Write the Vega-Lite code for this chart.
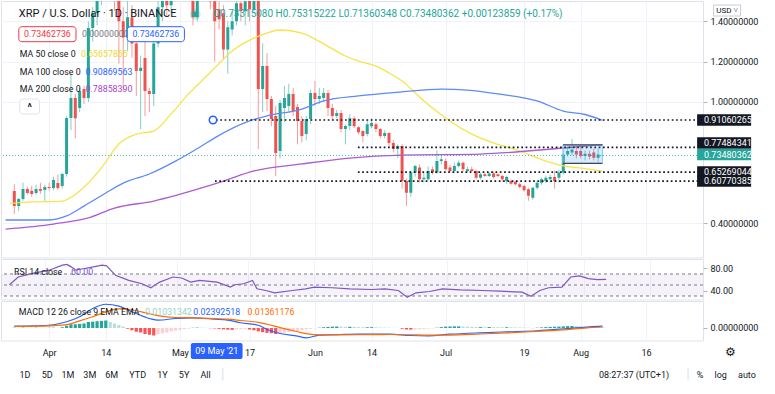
{
  "$schema": "https://vega.github.io/schema/vega-lite/v6.json",
  "background": "white",
  "padding": 0,
  "spacing": 0,
  "config": {
    "font": "Roboto",
    "view": {"stroke": "#e0e3eb"},
    "axis": {"labelFontSize": 9, "labelColor": "#131722", "gridColor": "#f0f3fa", "tickColor": "#b2b5be"},
    "text": {"fontSize": 9, "color": "#131722", "baseline": "middle"}
  },
  "datasets": {
    "candles": [
      {"date":"2021-03-24","open":0.559,"high":0.593,"low":0.445,"close":0.484,"hist":0.004},
      {"date":"2021-03-25","open":0.484,"high":0.524,"low":0.46,"close":0.519,"hist":0.003},
      {"date":"2021-03-26","open":0.519,"high":0.6,"low":0.51,"close":0.569,"hist":0.005},
      {"date":"2021-03-27","open":0.569,"high":0.58,"low":0.54,"close":0.549,"hist":0.004},
      {"date":"2021-03-28","open":0.56,"high":0.585,"low":0.53,"close":0.544,"hist":0.003},
      {"date":"2021-03-29","open":0.549,"high":0.59,"low":0.54,"close":0.569,"hist":0.004},
      {"date":"2021-03-30","open":0.569,"high":0.6,"low":0.545,"close":0.56,"hist":0.003},
      {"date":"2021-03-31","open":0.564,"high":0.59,"low":0.51,"close":0.579,"hist":0.002},
      {"date":"2021-04-01","open":0.579,"high":0.6,"low":0.56,"close":0.574,"hist":0.003},
      {"date":"2021-04-02","open":0.574,"high":0.63,"low":0.565,"close":0.613,"hist":0.004},
      {"date":"2021-04-03","open":0.598,"high":0.64,"low":0.565,"close":0.574,"hist":0.002},
      {"date":"2021-04-04","open":0.583,"high":0.65,"low":0.57,"close":0.643,"hist":0.01},
      {"date":"2021-04-05","open":0.643,"high":0.93,"low":0.63,"close":0.921,"hist":0.03},
      {"date":"2021-04-06","open":0.921,"high":1.14,"low":0.86,"close":1.02,"hist":0.05},
      {"date":"2021-04-07","open":1.02,"high":1.04,"low":0.82,"close":0.92,"hist":0.05},
      {"date":"2021-04-08","open":0.97,"high":1.07,"low":0.95,"close":1.054,"hist":0.055},
      {"date":"2021-04-09","open":1.064,"high":1.08,"low":0.99,"close":1.02,"hist":0.06},
      {"date":"2021-04-10","open":1.02,"high":1.4,"low":1.0,"close":1.367,"hist":0.08},
      {"date":"2021-04-11","open":1.367,"high":1.47,"low":1.3,"close":1.44,"hist":0.085},
      {"date":"2021-04-12","open":1.44,"high":1.58,"low":1.38,"close":1.52,"hist":0.09},
      {"date":"2021-04-13","open":1.52,"high":1.85,"low":1.48,"close":1.8,"hist":0.095},
      {"date":"2021-04-14","open":1.8,"high":1.96,"low":1.62,"close":1.72,"hist":0.1},
      {"date":"2021-04-15","open":1.72,"high":1.78,"low":1.58,"close":1.66,"hist":0.08},
      {"date":"2021-04-16","open":1.66,"high":1.72,"low":1.45,"close":1.56,"hist":0.06},
      {"date":"2021-04-17","open":1.56,"high":1.64,"low":1.19,"close":1.4,"hist":0.04},
      {"date":"2021-04-18","open":1.4,"high":1.47,"low":1.05,"close":1.32,"hist":0.02},
      {"date":"2021-04-19","open":1.32,"high":1.5,"low":1.25,"close":1.42,"hist":-0.01},
      {"date":"2021-04-20","open":1.42,"high":1.48,"low":1.22,"close":1.29,"hist":-0.03},
      {"date":"2021-04-21","open":1.29,"high":1.34,"low":1.03,"close":1.154,"hist":-0.05},
      {"date":"2021-04-22","open":1.154,"high":1.23,"low":0.866,"close":1.17,"hist":-0.06},
      {"date":"2021-04-23","open":1.218,"high":1.3,"low":0.93,"close":1.054,"hist":-0.08},
      {"date":"2021-04-24","open":1.054,"high":1.07,"low":0.95,"close":1.04,"hist":-0.09},
      {"date":"2021-04-25","open":1.04,"high":1.31,"low":0.98,"close":1.29,"hist":-0.1},
      {"date":"2021-04-26","open":1.29,"high":1.5,"low":1.27,"close":1.47,"hist":-0.085},
      {"date":"2021-04-27","open":1.47,"high":1.56,"low":1.4,"close":1.52,"hist":-0.07},
      {"date":"2021-04-28","open":1.52,"high":1.58,"low":1.42,"close":1.48,"hist":-0.06},
      {"date":"2021-04-29","open":1.48,"high":1.56,"low":1.44,"close":1.52,"hist":-0.045},
      {"date":"2021-04-30","open":1.52,"high":1.7,"low":1.5,"close":1.65,"hist":-0.035},
      {"date":"2021-05-01","open":1.65,"high":1.7,"low":1.58,"close":1.62,"hist":-0.025},
      {"date":"2021-05-02","open":1.62,"high":1.66,"low":1.52,"close":1.56,"hist":-0.015},
      {"date":"2021-05-03","open":1.56,"high":1.65,"low":1.5,"close":1.6,"hist":-0.008},
      {"date":"2021-05-04","open":1.6,"high":1.62,"low":1.38,"close":1.42,"hist":0.003},
      {"date":"2021-05-05","open":1.42,"high":1.62,"low":1.4,"close":1.58,"hist":0.005},
      {"date":"2021-05-06","open":1.58,"high":1.65,"low":1.52,"close":1.56,"hist":0.004},
      {"date":"2021-05-07","open":1.56,"high":1.62,"low":1.5,"close":1.58,"hist":0.002},
      {"date":"2021-05-08","open":1.58,"high":1.62,"low":1.46,"close":1.5,"hist":-0.003},
      {"date":"2021-05-09","open":1.5,"high":1.55,"low":1.2,"close":1.4,"hist":-0.006},
      {"date":"2021-05-10","open":1.46,"high":1.5,"low":1.36,"close":1.41,"hist":-0.012},
      {"date":"2021-05-11","open":1.44,"high":1.48,"low":1.21,"close":1.26,"hist":-0.018},
      {"date":"2021-05-12","open":1.26,"high":1.4,"low":1.14,"close":1.37,"hist":-0.022},
      {"date":"2021-05-13","open":1.36,"high":1.45,"low":1.33,"close":1.4,"hist":-0.025},
      {"date":"2021-05-14","open":1.4,"high":1.52,"low":1.38,"close":1.49,"hist":-0.018},
      {"date":"2021-05-15","open":1.49,"high":1.55,"low":1.4,"close":1.45,"hist":-0.015},
      {"date":"2021-05-16","open":1.45,"high":1.56,"low":1.38,"close":1.5,"hist":-0.012},
      {"date":"2021-05-17","open":1.52,"high":1.58,"low":1.4,"close":1.46,"hist":-0.02},
      {"date":"2021-05-18","open":1.46,"high":1.6,"low":1.44,"close":1.55,"hist":-0.03},
      {"date":"2021-05-19","open":1.55,"high":1.6,"low":0.767,"close":1.064,"hist":-0.045},
      {"date":"2021-05-20","open":1.064,"high":1.29,"low":0.95,"close":1.178,"hist":-0.055},
      {"date":"2021-05-21","open":1.178,"high":1.243,"low":0.955,"close":1.015,"hist":-0.065},
      {"date":"2021-05-22","open":1.015,"high":1.03,"low":0.88,"close":0.916,"hist":-0.07},
      {"date":"2021-05-23","open":0.93,"high":0.98,"low":0.633,"close":0.747,"hist":-0.08},
      {"date":"2021-05-24","open":0.757,"high":1.01,"low":0.72,"close":0.995,"hist":-0.07},
      {"date":"2021-05-25","open":0.97,"high":1.08,"low":0.9,"close":1.02,"hist":-0.065},
      {"date":"2021-05-26","open":0.98,"high":1.09,"low":0.95,"close":1.04,"hist":-0.055},
      {"date":"2021-05-27","open":1.04,"high":1.07,"low":0.93,"close":0.955,"hist":-0.045},
      {"date":"2021-05-28","open":0.975,"high":0.99,"low":0.79,"close":0.906,"hist":-0.04},
      {"date":"2021-05-29","open":0.906,"high":0.93,"low":0.8,"close":0.831,"hist":-0.03},
      {"date":"2021-05-30","open":0.841,"high":0.93,"low":0.81,"close":0.916,"hist":-0.02},
      {"date":"2021-05-31","open":0.916,"high":1.06,"low":0.89,"close":1.045,"hist":-0.012},
      {"date":"2021-06-01","open":1.045,"high":1.104,"low":0.98,"close":1.015,"hist":-0.005},
      {"date":"2021-06-02","open":1.015,"high":1.07,"low":0.99,"close":1.03,"hist":0.004},
      {"date":"2021-06-03","open":1.02,"high":1.07,"low":1.0,"close":1.045,"hist":0.01},
      {"date":"2021-06-04","open":1.045,"high":1.06,"low":0.93,"close":0.97,"hist":0.015},
      {"date":"2021-06-05","open":0.97,"high":0.99,"low":0.91,"close":0.93,"hist":0.018},
      {"date":"2021-06-06","open":0.93,"high":0.96,"low":0.92,"close":0.945,"hist":0.02},
      {"date":"2021-06-07","open":0.945,"high":0.96,"low":0.85,"close":0.866,"hist":0.018},
      {"date":"2021-06-08","open":0.866,"high":0.89,"low":0.79,"close":0.881,"hist":0.016},
      {"date":"2021-06-09","open":0.881,"high":0.94,"low":0.86,"close":0.92,"hist":0.016},
      {"date":"2021-06-10","open":0.92,"high":0.93,"low":0.87,"close":0.88,"hist":0.014},
      {"date":"2021-06-11","open":0.875,"high":0.88,"low":0.84,"close":0.85,"hist":0.012},
      {"date":"2021-06-12","open":0.856,"high":0.86,"low":0.8,"close":0.831,"hist":0.01},
      {"date":"2021-06-13","open":0.841,"high":0.91,"low":0.83,"close":0.89,"hist":0.01},
      {"date":"2021-06-14","open":0.88,"high":0.92,"low":0.87,"close":0.896,"hist":0.011},
      {"date":"2021-06-15","open":0.89,"high":0.9,"low":0.85,"close":0.866,"hist":0.009},
      {"date":"2021-06-16","open":0.866,"high":0.87,"low":0.82,"close":0.831,"hist":0.007},
      {"date":"2021-06-17","open":0.831,"high":0.86,"low":0.82,"close":0.846,"hist":0.006},
      {"date":"2021-06-18","open":0.846,"high":0.85,"low":0.78,"close":0.797,"hist":0.004},
      {"date":"2021-06-19","open":0.797,"high":0.81,"low":0.75,"close":0.767,"hist":0.002},
      {"date":"2021-06-20","open":0.767,"high":0.79,"low":0.72,"close":0.782,"hist":0.001},
      {"date":"2021-06-21","open":0.782,"high":0.79,"low":0.57,"close":0.608,"hist":-0.01},
      {"date":"2021-06-22","open":0.608,"high":0.62,"low":0.484,"close":0.55,"hist":-0.02},
      {"date":"2021-06-23","open":0.55,"high":0.66,"low":0.53,"close":0.65,"hist":-0.022},
      {"date":"2021-06-24","open":0.65,"high":0.69,"low":0.63,"close":0.683,"hist":-0.02},
      {"date":"2021-06-25","open":0.675,"high":0.69,"low":0.6,"close":0.617,"hist":-0.016},
      {"date":"2021-06-26","open":0.617,"high":0.65,"low":0.6,"close":0.625,"hist":-0.012},
      {"date":"2021-06-27","open":0.617,"high":0.68,"low":0.61,"close":0.658,"hist":-0.008},
      {"date":"2021-06-28","open":0.667,"high":0.68,"low":0.64,"close":0.65,"hist":-0.004},
      {"date":"2021-06-29","open":0.65,"high":0.761,"low":0.645,"close":0.707,"hist":0.004},
      {"date":"2021-06-30","open":0.707,"high":0.74,"low":0.69,"close":0.716,"hist":0.012},
      {"date":"2021-07-01","open":0.707,"high":0.72,"low":0.66,"close":0.667,"hist":0.018},
      {"date":"2021-07-02","open":0.675,"high":0.69,"low":0.65,"close":0.658,"hist":0.02},
      {"date":"2021-07-03","open":0.658,"high":0.7,"low":0.65,"close":0.683,"hist":0.022},
      {"date":"2021-07-04","open":0.683,"high":0.71,"low":0.675,"close":0.699,"hist":0.022},
      {"date":"2021-07-05","open":0.699,"high":0.705,"low":0.655,"close":0.667,"hist":0.02},
      {"date":"2021-07-06","open":0.658,"high":0.68,"low":0.65,"close":0.667,"hist":0.018},
      {"date":"2021-07-07","open":0.667,"high":0.68,"low":0.655,"close":0.658,"hist":0.015},
      {"date":"2021-07-08","open":0.658,"high":0.665,"low":0.615,"close":0.625,"hist":0.012},
      {"date":"2021-07-09","open":0.625,"high":0.65,"low":0.615,"close":0.642,"hist":0.012},
      {"date":"2021-07-10","open":0.642,"high":0.65,"low":0.628,"close":0.633,"hist":0.011},
      {"date":"2021-07-11","open":0.633,"high":0.652,"low":0.628,"close":0.645,"hist":0.013},
      {"date":"2021-07-12","open":0.645,"high":0.655,"low":0.62,"close":0.628,"hist":0.012},
      {"date":"2021-07-13","open":0.642,"high":0.645,"low":0.625,"close":0.633,"hist":0.011},
      {"date":"2021-07-14","open":0.633,"high":0.64,"low":0.605,"close":0.617,"hist":0.01},
      {"date":"2021-07-15","open":0.608,"high":0.635,"low":0.595,"close":0.628,"hist":0.01},
      {"date":"2021-07-16","open":0.608,"high":0.615,"low":0.59,"close":0.595,"hist":0.009},
      {"date":"2021-07-17","open":0.605,"high":0.61,"low":0.585,"close":0.592,"hist":0.008},
      {"date":"2021-07-18","open":0.592,"high":0.6,"low":0.57,"close":0.579,"hist":0.007},
      {"date":"2021-07-19","open":0.583,"high":0.59,"low":0.555,"close":0.562,"hist":0.006},
      {"date":"2021-07-20","open":0.568,"high":0.575,"low":0.51,"close":0.535,"hist":0.004},
      {"date":"2021-07-21","open":0.525,"high":0.58,"low":0.515,"close":0.575,"hist":-0.002},
      {"date":"2021-07-22","open":0.575,"high":0.61,"low":0.565,"close":0.6,"hist":0.004},
      {"date":"2021-07-23","open":0.6,"high":0.625,"low":0.59,"close":0.617,"hist":0.008},
      {"date":"2021-07-24","open":0.608,"high":0.635,"low":0.6,"close":0.625,"hist":0.012},
      {"date":"2021-07-25","open":0.617,"high":0.64,"low":0.6,"close":0.628,"hist":0.015},
      {"date":"2021-07-26","open":0.628,"high":0.66,"low":0.57,"close":0.608,"hist":0.017},
      {"date":"2021-07-27","open":0.625,"high":0.665,"low":0.6,"close":0.65,"hist":0.019},
      {"date":"2021-07-28","open":0.65,"high":0.765,"low":0.64,"close":0.74,"hist":0.022},
      {"date":"2021-07-29","open":0.74,"high":0.78,"low":0.73,"close":0.757,"hist":0.025},
      {"date":"2021-07-30","open":0.749,"high":0.817,"low":0.735,"close":0.765,"hist":0.027},
      {"date":"2021-07-31","open":0.757,"high":0.78,"low":0.72,"close":0.74,"hist":0.025},
      {"date":"2021-08-01","open":0.757,"high":0.79,"low":0.72,"close":0.732,"hist":0.022},
      {"date":"2021-08-02","open":0.732,"high":0.76,"low":0.71,"close":0.744,"hist":0.018},
      {"date":"2021-08-03","open":0.744,"high":0.76,"low":0.715,"close":0.73,"hist":0.015},
      {"date":"2021-08-04","open":0.749,"high":0.77,"low":0.71,"close":0.724,"hist":0.013},
      {"date":"2021-08-05","open":0.724,"high":0.77,"low":0.7,"close":0.74,"hist":0.011},
      {"date":"2021-08-06","open":0.7331508,"high":0.75315222,"low":0.71360348,"close":0.73480362,"hist":0.0103}
    ],
    "ma50": [
      {"date":"2021-03-23","v":0.497},{"date":"2021-03-27","v":0.504},{"date":"2021-04-04","v":0.509},
      {"date":"2021-04-08","v":0.559},{"date":"2021-04-13","v":0.673},{"date":"2021-04-17","v":0.792},
      {"date":"2021-04-21","v":0.841},{"date":"2021-04-25","v":0.856},{"date":"2021-04-29","v":0.941},
      {"date":"2021-05-03","v":1.04},{"date":"2021-05-06","v":1.104},{"date":"2021-05-09","v":1.169},
      {"date":"2021-05-13","v":1.253},{"date":"2021-05-18","v":1.317},{"date":"2021-05-21","v":1.342},
      {"date":"2021-05-24","v":1.357},{"date":"2021-05-29","v":1.342},{"date":"2021-06-03","v":1.288},
      {"date":"2021-06-08","v":1.228},{"date":"2021-06-11","v":1.203},{"date":"2021-06-15","v":1.178},
      {"date":"2021-06-18","v":1.144},{"date":"2021-06-21","v":1.104},{"date":"2021-06-26","v":1.005},
      {"date":"2021-07-01","v":0.921},{"date":"2021-07-07","v":0.841},{"date":"2021-07-12","v":0.797},
      {"date":"2021-07-18","v":0.757},{"date":"2021-07-24","v":0.707},{"date":"2021-07-28","v":0.683},
      {"date":"2021-08-02","v":0.67},{"date":"2021-08-06","v":0.657}
    ],
    "ma100": [
      {"date":"2021-03-22","v":0.415},{"date":"2021-04-01","v":0.415},{"date":"2021-04-05","v":0.435},
      {"date":"2021-04-09","v":0.484},{"date":"2021-04-14","v":0.549},{"date":"2021-04-18","v":0.598},
      {"date":"2021-04-24","v":0.643},{"date":"2021-04-30","v":0.707},{"date":"2021-05-06","v":0.782},
      {"date":"2021-05-09","v":0.822},{"date":"2021-05-17","v":0.906},{"date":"2021-05-21","v":0.931},
      {"date":"2021-05-29","v":0.965},{"date":"2021-06-03","v":1.005},{"date":"2021-06-11","v":1.03},
      {"date":"2021-06-21","v":1.05},{"date":"2021-06-30","v":1.064},{"date":"2021-07-06","v":1.059},
      {"date":"2021-07-13","v":1.04},{"date":"2021-07-22","v":1.005},{"date":"2021-07-28","v":0.955},
      {"date":"2021-08-02","v":0.938},{"date":"2021-08-06","v":0.909}
    ],
    "ma200": [
      {"date":"2021-03-22","v":0.37},{"date":"2021-04-02","v":0.395},{"date":"2021-04-10","v":0.425},
      {"date":"2021-04-16","v":0.474},{"date":"2021-04-25","v":0.509},{"date":"2021-05-06","v":0.574},
      {"date":"2021-05-11","v":0.608},{"date":"2021-05-18","v":0.658},{"date":"2021-05-29","v":0.693},
      {"date":"2021-06-09","v":0.722},{"date":"2021-06-21","v":0.737},{"date":"2021-07-09","v":0.742},
      {"date":"2021-07-28","v":0.772},{"date":"2021-08-06","v":0.789}
    ],
    "levels": [
      {"level":0.91060265,"start":1620543040000},
      {"level":0.77484341,"start":1623357882000},
      {"level":0.65269044,"start":1623357882000},
      {"level":0.60770385,"start":1620523492000}
    ],
    "rsi": [
      {"date":"2021-03-24","rsi":50.5},{"date":"2021-03-26","rsi":64.5},{"date":"2021-03-29","rsi":70.8},
      {"date":"2021-04-02","rsi":76.9},{"date":"2021-04-05","rsi":86},{"date":"2021-04-06","rsi":87.4},
      {"date":"2021-04-07","rsi":83},{"date":"2021-04-08","rsi":77},{"date":"2021-04-10","rsi":80},
      {"date":"2021-04-12","rsi":83},{"date":"2021-04-14","rsi":86},{"date":"2021-04-15","rsi":84.8},
      {"date":"2021-04-17","rsi":67.6},{"date":"2021-04-20","rsi":58.4},{"date":"2021-04-23","rsi":52.3},
      {"date":"2021-04-25","rsi":45},{"date":"2021-04-27","rsi":55.3},{"date":"2021-04-30","rsi":64.5},
      {"date":"2021-05-02","rsi":62.7},{"date":"2021-05-04","rsi":55.3},{"date":"2021-05-06","rsi":58.4},
      {"date":"2021-05-10","rsi":55.3},{"date":"2021-05-13","rsi":46.1},{"date":"2021-05-14","rsi":50.5},
      {"date":"2021-05-16","rsi":52.3},{"date":"2021-05-18","rsi":58.4},{"date":"2021-05-19","rsi":43.1},
      {"date":"2021-05-21","rsi":40},{"date":"2021-05-23","rsi":35.8},{"date":"2021-05-27","rsi":40},
      {"date":"2021-05-30","rsi":43.1},{"date":"2021-06-01","rsi":46.1},{"date":"2021-06-05","rsi":45},
      {"date":"2021-06-09","rsi":43.1},{"date":"2021-06-14","rsi":41.8},{"date":"2021-06-17","rsi":43.1},
      {"date":"2021-06-20","rsi":40},{"date":"2021-06-22","rsi":27.7},{"date":"2021-06-24","rsi":35.8},
      {"date":"2021-06-27","rsi":38.2},{"date":"2021-06-30","rsi":43.1},{"date":"2021-07-04","rsi":41.3},
      {"date":"2021-07-09","rsi":40},{"date":"2021-07-13","rsi":38.8},{"date":"2021-07-18","rsi":36.9},
      {"date":"2021-07-20","rsi":29.5},{"date":"2021-07-22","rsi":40},{"date":"2021-07-24","rsi":45},
      {"date":"2021-07-27","rsi":46.1},{"date":"2021-07-29","rsi":64.5},{"date":"2021-07-31","rsi":66.4},
      {"date":"2021-08-02","rsi":61.6},{"date":"2021-08-04","rsi":59.7},{"date":"2021-08-06","rsi":60.3}
    ],
    "macd": [
      {"date":"2021-03-24","macd":0.024,"signal":0.02},{"date":"2021-03-29","macd":0.027,"signal":0.024},
      {"date":"2021-04-02","macd":0.043,"signal":0.032},{"date":"2021-04-05","macd":0.083,"signal":0.045},
      {"date":"2021-04-08","macd":0.149,"signal":0.095},{"date":"2021-04-11","macd":0.26,"signal":0.15},
      {"date":"2021-04-14","macd":0.317,"signal":0.215},{"date":"2021-04-17","macd":0.291,"signal":0.255},
      {"date":"2021-04-20","macd":0.216,"signal":0.24},{"date":"2021-04-24","macd":0.127,"signal":0.19},
      {"date":"2021-04-26","macd":0.104,"signal":0.165},{"date":"2021-04-30","macd":0.127,"signal":0.14},
      {"date":"2021-05-04","macd":0.136,"signal":0.136},{"date":"2021-05-09","macd":0.117,"signal":0.125},
      {"date":"2021-05-12","macd":0.104,"signal":0.118},{"date":"2021-05-15","macd":0.07,"signal":0.1},
      {"date":"2021-05-19","macd":0.037,"signal":0.075},{"date":"2021-05-21","macd":-0.02,"signal":0.05},
      {"date":"2021-05-24","macd":-0.073,"signal":0.005},{"date":"2021-05-28","macd":-0.109,"signal":-0.05},
      {"date":"2021-05-30","macd":-0.131,"signal":-0.075},{"date":"2021-06-02","macd":-0.096,"signal":-0.092},
      {"date":"2021-06-07","macd":-0.087,"signal":-0.092},{"date":"2021-06-11","macd":-0.083,"signal":-0.09},
      {"date":"2021-06-18","macd":-0.083,"signal":-0.087},{"date":"2021-06-23","macd":-0.1,"signal":-0.09},
      {"date":"2021-06-27","macd":-0.104,"signal":-0.095},{"date":"2021-07-02","macd":-0.083,"signal":-0.094},
      {"date":"2021-07-09","macd":-0.064,"signal":-0.08},{"date":"2021-07-15","macd":-0.051,"signal":-0.066},
      {"date":"2021-07-22","macd":-0.037,"signal":-0.045},{"date":"2021-07-29","macd":-0.007,"signal":-0.022},
      {"date":"2021-08-03","macd":0.016,"signal":0.005},{"date":"2021-08-06","macd":0.0239,"signal":0.0136}
    ]
  },
  "vconcat": [
    {
      "width": 702,
      "height": 256.5,
      "data": {"values": [{}]},
      "resolve": {"axis": {"x": "independent", "y": "independent"}},
      "layer": [
        {
          "data": {"name": "candles"},
          "mark": {"type": "rule", "clip": true, "strokeWidth": 1},
          "encoding": {
            "x": {"field": "date", "type": "temporal", "scale": {"type": "utc", "domain": [1616379420000, 1630101773000], "nice": false},
                  "axis": {"values": [1617235200000,1618358400000,1619827200000,1621209600000,1622505600000,1623628800000,1625097600000,1626652800000,1627776000000,1629072000000], "labels": false, "ticks": false, "domain": false, "grid": true, "title": null}},
            "y": {"field": "low", "type": "quantitative", "scale": {"domain": [0.22902, 1.5007], "nice": false, "zero": false},
                  "axis": {"orient": "right", "values": [0.4, 1, 1.2, 1.4], "format": ".8f", "grid": true, "ticks": true, "tickSize": 4, "labelPadding": 3, "domain": false, "title": null}},
            "y2": {"field": "high"},
            "color": {"condition": {"test": "datum.close >= datum.open", "value": "#86cdc4"}, "value": "#f49c9a"}
          }
        },
        {
          "data": {"name": "candles"},
          "mark": {"type": "bar", "clip": true, "width": 3},
          "encoding": {
            "x": {"field": "date", "type": "temporal", "axis": null},
            "y": {"field": "open", "type": "quantitative", "axis": null},
            "y2": {"field": "close"},
            "color": {"condition": {"test": "datum.close >= datum.open", "value": "#26a69a"}, "value": "#ef5350"}
          }
        },
        {
          "data": {"name": "ma50"},
          "mark": {"type": "line", "clip": true, "color": "#f8e34a", "strokeWidth": 1.3, "interpolate": "monotone"},
          "encoding": {"x": {"field": "date", "type": "temporal", "axis": null}, "y": {"field": "v", "type": "quantitative", "axis": null}}
        },
        {
          "data": {"name": "ma100"},
          "mark": {"type": "line", "clip": true, "color": "#5d8af8", "strokeWidth": 1.3, "interpolate": "monotone"},
          "encoding": {"x": {"field": "date", "type": "temporal", "axis": null}, "y": {"field": "v", "type": "quantitative", "axis": null}}
        },
        {
          "data": {"name": "ma200"},
          "mark": {"type": "line", "clip": true, "color": "#ab5bd3", "strokeWidth": 1.3, "interpolate": "monotone"},
          "encoding": {"x": {"field": "date", "type": "temporal", "axis": null}, "y": {"field": "v", "type": "quantitative", "axis": null}}
        },
        {
          "mark": {"type": "rule", "color": "#26a69a", "strokeDash": [1, 2], "strokeWidth": 1, "opacity": 0.8},
          "encoding": {"y": {"datum": 0.73480362, "type": "quantitative", "axis": null}}
        },
        {
          "data": {"name": "levels"},
          "mark": {"type": "rule", "color": "#131722", "strokeDash": [1.7, 2.6], "strokeWidth": 1.7},
          "encoding": {
            "x": {"field": "start", "type": "temporal", "axis": null},
            "x2": {"datum": 1630101773000},
            "y": {"field": "level", "type": "quantitative", "axis": null}
          }
        },
        {
          "mark": {"type": "rect", "fill": "#2196f3", "fillOpacity": 0.18, "stroke": "#90caf9", "strokeWidth": 1},
          "encoding": {
            "x": {"datum": 1627423764000, "type": "temporal", "axis": null},
            "x2": {"datum": 1628205664000},
            "y": {"datum": 0.787, "type": "quantitative", "axis": null},
            "y2": {"datum": 0.696}
          }
        },
        {
          "mark": {"type": "rule", "color": "#434651", "strokeWidth": 1.2},
          "encoding": {
            "x": {"datum": 1627423764000, "type": "temporal", "axis": null},
            "x2": {"datum": 1628205664000},
            "y": {"datum": 0.787, "type": "quantitative", "axis": null}
          }
        },
        {
          "mark": {"type": "rule", "color": "#434651", "strokeWidth": 1.2},
          "encoding": {
            "x": {"datum": 1627423764000, "type": "temporal", "axis": null},
            "x2": {"datum": 1628205664000},
            "y": {"datum": 0.696, "type": "quantitative", "axis": null}
          }
        },
        {
          "mark": {"type": "point", "shape": "circle", "filled": false, "fill": "white", "fillOpacity": 1, "stroke": "#2962ff", "strokeWidth": 1.6, "size": 55, "opacity": 1},
          "encoding": {
            "x": {"datum": 1620484397000, "type": "temporal", "axis": null},
            "y": {"datum": 0.91060265, "type": "quantitative", "axis": null}
          }
        },
        {
          "data": {"name": "levels"},
          "transform": [{"filter": "datum.level < 0.77 || datum.level > 0.78"}],
          "mark": {"type": "tick", "orient": "horizontal", "color": "#131722", "thickness": 11.5, "opacity": 1},
          "encoding": {
            "x": {"datum": 1630619782000, "type": "temporal", "axis": null},
            "y": {"field": "level", "type": "quantitative", "axis": null},
            "size": {"value": 54}
          }
        },
        {
          "data": {"name": "levels"},
          "transform": [{"filter": "datum.level > 0.77 && datum.level < 0.78"}],
          "mark": {"type": "tick", "orient": "horizontal", "color": "#131722", "thickness": 11.5, "opacity": 1, "yOffset": -4.5},
          "encoding": {
            "x": {"datum": 1630619782000, "type": "temporal", "axis": null},
            "y": {"field": "level", "type": "quantitative", "axis": null},
            "size": {"value": 54}
          }
        },
        {
          "mark": {"type": "tick", "orient": "horizontal", "color": "#26a69a", "thickness": 11.5, "opacity": 1, "yOffset": -1},
          "encoding": {
            "x": {"datum": 1630619782000, "type": "temporal", "axis": null},
            "y": {"datum": 0.73480362, "type": "quantitative", "axis": null},
            "size": {"value": 54}
          }
        },
        {
          "data": {"name": "levels"},
          "transform": [{"filter": "datum.level < 0.77 || datum.level > 0.78"}],
          "mark": {"type": "text", "align": "left", "color": "white", "fontSize": 9},
          "encoding": {
            "x": {"datum": 1630219058000, "type": "temporal", "axis": null},
            "y": {"field": "level", "type": "quantitative", "axis": null},
            "text": {"field": "level", "format": ".8f"}
          }
        },
        {
          "data": {"name": "levels"},
          "transform": [{"filter": "datum.level > 0.77 && datum.level < 0.78"}],
          "mark": {"type": "text", "align": "left", "color": "white", "fontSize": 9, "dy": -4.5},
          "encoding": {
            "x": {"datum": 1630219058000, "type": "temporal", "axis": null},
            "y": {"field": "level", "type": "quantitative", "axis": null},
            "text": {"field": "level", "format": ".8f"}
          }
        },
        {
          "mark": {"type": "text", "align": "left", "color": "white", "fontSize": 9, "text": "0.73480362"},
          "encoding": {
            "x": {"datum": 1630219058000, "type": "temporal", "axis": null},
            "y": {"datum": 0.73480362, "type": "quantitative", "axis": null}
          }
        },
        {
          "mark": {"type": "tick", "orient": "horizontal", "color": "white", "stroke": "#c9ccd4", "strokeWidth": 1, "thickness": 11, "opacity": 1},
          "encoding": {
            "x": {"datum": 1630678425000, "type": "temporal", "axis": null},
            "y": {"datum": 1.4534, "type": "quantitative", "axis": null},
            "size": {"value": 27}
          }
        },
        {
          "mark": {"type": "text", "align": "center", "fontSize": 8, "text": "USD ˅"},
          "encoding": {
            "x": {"datum": 1630678425000, "type": "temporal", "axis": null},
            "y": {"datum": 1.4534, "type": "quantitative", "axis": null}
          }
        },
        {
          "mark": {"type": "text", "align": "left", "fontSize": 11, "text": "XRP / U.S. Dollar · 1D · BINANCE"},
          "encoding": {
            "x": {"datum": 1616633538000, "type": "temporal", "axis": null},
            "y": {"datum": 1.4348, "type": "quantitative", "axis": null}
          }
        },
        {
          "mark": {"type": "point", "shape": "circle", "filled": true, "color": "#26a69a", "size": 120, "opacity": 0.22},
          "encoding": {
            "x": {"datum": 1620132542000, "type": "temporal", "axis": null},
            "y": {"datum": 1.4348, "type": "quantitative", "axis": null}
          }
        },
        {
          "mark": {"type": "point", "shape": "circle", "filled": true, "color": "#26a69a", "size": 30, "opacity": 1},
          "encoding": {
            "x": {"datum": 1620132542000, "type": "temporal", "axis": null},
            "y": {"datum": 1.4348, "type": "quantitative", "axis": null}
          }
        },
        {
          "mark": {"type": "text", "align": "left", "fontSize": 10, "color": "#26a69a", "text": "O0.73315080 H0.75315222 L0.71360348 C0.73480362 +0.00123859 (+0.17%)"},
          "encoding": {
            "x": {"datum": 1620484397000, "type": "temporal", "axis": null},
            "y": {"datum": 1.4348, "type": "quantitative", "axis": null}
          }
        },
        {
          "mark": {"type": "rect", "fill": "white", "stroke": "#f23645", "strokeWidth": 1, "cornerRadius": 3},
          "encoding": {
            "x": {"datum": 1616633538000, "type": "temporal", "axis": null},
            "x2": {"datum": 1617767293000},
            "y": {"datum": 1.3733, "type": "quantitative", "axis": null},
            "y2": {"datum": 1.2989}
          }
        },
        {
          "mark": {"type": "text", "align": "center", "fontSize": 8.8, "color": "#f23645", "text": "0.73462736"},
          "encoding": {
            "x": {"datum": 1617200415000, "type": "temporal", "axis": null},
            "y": {"datum": 1.3361, "type": "quantitative", "axis": null}
          }
        },
        {
          "mark": {"type": "text", "align": "left", "fontSize": 8.8, "color": "#787b86", "text": "0.00000000"},
          "encoding": {
            "x": {"datum": 1617884578000, "type": "temporal", "axis": null},
            "y": {"datum": 1.3361, "type": "quantitative", "axis": null}
          }
        },
        {
          "mark": {"type": "rect", "fill": "white", "stroke": "#2962ff", "strokeWidth": 1, "cornerRadius": 3},
          "encoding": {
            "x": {"datum": 1618783764000, "type": "temporal", "axis": null},
            "x2": {"datum": 1619917520000},
            "y": {"datum": 1.3733, "type": "quantitative", "axis": null},
            "y2": {"datum": 1.2989}
          }
        },
        {
          "mark": {"type": "text", "align": "center", "fontSize": 8.8, "color": "#2962ff", "text": "0.73462736"},
          "encoding": {
            "x": {"datum": 1619350642000, "type": "temporal", "axis": null},
            "y": {"datum": 1.3361, "type": "quantitative", "axis": null}
          }
        },
        {
          "mark": {"type": "text", "align": "left", "fontSize": 8.8, "color": "#131722", "text": "MA 50 close 0"},
          "encoding": {
            "x": {"datum": 1616653085000, "type": "temporal", "axis": null},
            "y": {"datum": 1.2364, "type": "quantitative", "axis": null}
          }
        },
        {
          "mark": {"type": "text", "align": "left", "fontSize": 8.8, "color": "#eed930", "text": "0.65657855"},
          "encoding": {
            "x": {"datum": 1617865031000, "type": "temporal", "axis": null},
            "y": {"datum": 1.2364, "type": "quantitative", "axis": null}
          }
        },
        {
          "mark": {"type": "text", "align": "left", "fontSize": 8.8, "color": "#131722", "text": "MA 100 close 0"},
          "encoding": {
            "x": {"datum": 1616653085000, "type": "temporal", "axis": null},
            "y": {"datum": 1.1502, "type": "quantitative", "axis": null}
          }
        },
        {
          "mark": {"type": "text", "align": "left", "fontSize": 8.8, "color": "#2962ff", "text": "0.90869563"},
          "encoding": {
            "x": {"datum": 1617956904000, "type": "temporal", "axis": null},
            "y": {"datum": 1.1502, "type": "quantitative", "axis": null}
          }
        },
        {
          "mark": {"type": "text", "align": "left", "fontSize": 8.8, "color": "#131722", "text": "MA 200 close 0"},
          "encoding": {
            "x": {"datum": 1616653085000, "type": "temporal", "axis": null},
            "y": {"datum": 1.0629, "type": "quantitative", "axis": null}
          }
        },
        {
          "mark": {"type": "text", "align": "left", "fontSize": 8.8, "color": "#a348cc", "text": "0.78858390"},
          "encoding": {
            "x": {"datum": 1617956904000, "type": "temporal", "axis": null},
            "y": {"datum": 1.0629, "type": "quantitative", "axis": null}
          }
        },
        {
          "mark": {"type": "rect", "fill": "white", "stroke": "#e0e3eb", "strokeWidth": 1, "cornerRadius": 3},
          "encoding": {
            "x": {"datum": 1616653085000, "type": "temporal", "axis": null},
            "x2": {"datum": 1617044035000},
            "y": {"datum": 1.0148, "type": "quantitative", "axis": null},
            "y2": {"datum": 0.9405}
          }
        },
        {
          "mark": {"type": "text", "align": "center", "fontSize": 10, "fontWeight": "bold", "dy": 2, "text": "^"},
          "encoding": {
            "x": {"datum": 1616848560000, "type": "temporal", "axis": null},
            "y": {"datum": 0.9777, "type": "quantitative", "axis": null}
          }
        }
      ]
    },
    {
      "width": 702,
      "height": 40.5,
      "data": {"values": [{}]},
      "resolve": {"axis": {"x": "independent", "y": "independent"}},
      "layer": [
        {
          "data": {"name": "rsi"},
          "mark": {"type": "line", "color": "#7e57c2", "strokeWidth": 1.2, "clip": true},
          "encoding": {
            "x": {"field": "date", "type": "temporal", "scale": {"type": "utc", "domain": [1616379420000, 1630101773000], "nice": false},
                  "axis": {"values": [1617235200000,1618358400000,1619827200000,1621209600000,1622505600000,1623628800000,1625097600000,1626652800000,1627776000000,1629072000000], "labels": false, "ticks": false, "domain": false, "grid": true, "title": null}},
            "y": {"field": "rsi", "type": "quantitative", "scale": {"domain": [23.64, 97.27], "nice": false, "zero": false},
                  "axis": {"orient": "right", "values": [40, 80], "format": ".2f", "grid": false, "ticks": true, "tickSize": 4, "labelPadding": 3, "domain": false, "title": null}}
          }
        },
        {
          "mark": {"type": "rect", "color": "#7e57c2", "opacity": 0.08},
          "encoding": {"y": {"datum": 70, "type": "quantitative", "axis": null}, "y2": {"datum": 30}}
        },
        {
          "data": {"values": [{"v": 70}, {"v": 50}, {"v": 30}]},
          "mark": {"type": "rule", "color": "#787b86", "strokeDash": [3, 3], "strokeWidth": 1},
          "encoding": {"y": {"field": "v", "type": "quantitative", "axis": null}}
        },
        {
          "mark": {"type": "text", "align": "left", "fontSize": 8.8, "color": "#131722", "text": "RSI 14 close"},
          "encoding": {
            "x": {"datum": 1616633538000, "type": "temporal", "axis": null},
            "y": {"datum": 74.5, "type": "quantitative", "axis": null}
          }
        },
        {
          "mark": {"type": "text", "align": "left", "fontSize": 8.8, "color": "#7e57c2", "text": "60.00"},
          "encoding": {
            "x": {"datum": 1617747746000, "type": "temporal", "axis": null},
            "y": {"datum": 74.5, "type": "quantitative", "axis": null}
          }
        }
      ]
    },
    {
      "width": 702,
      "height": 39.5,
      "data": {"values": [{}]},
      "resolve": {"axis": {"x": "independent", "y": "independent"}},
      "layer": [
        {
          "data": {"name": "candles"},
          "transform": [{"window": [{"op": "lag", "field": "hist", "as": "prev"}], "sort": [{"field": "date", "order": "ascending"}]}],
          "mark": {"type": "bar", "width": 3.2},
          "encoding": {
            "x": {"field": "date", "type": "temporal", "scale": {"type": "utc", "domain": [1616379420000, 1630101773000], "nice": false},
                  "axis": {"values": [1617235200000,1618358400000,1619827200000,1621209600000,1622505600000,1623628800000,1625097600000,1626652800000,1627776000000,1629072000000],
                           "labelExpr": "utcdate(datum.value) == 1 ? utcFormat(datum.value, '%b') : utcFormat(datum.value, '%d')",
                           "labelOverlap": false, "labelFlush": false, "ticks": false, "tickSize": 0, "labelPadding": 8, "domain": false, "grid": true, "title": null}},
            "y": {"field": "hist", "type": "quantitative", "scale": {"domain": [-0.1667, 0.36], "nice": false, "zero": false},
                  "axis": {"orient": "right", "values": [0], "format": ".8f", "grid": false, "ticks": true, "tickSize": 4, "labelPadding": 3, "domain": false, "title": null}},
            "y2": {"datum": 0},
            "color": {
              "condition": [
                {"test": "datum.hist >= 0 && (datum.prev == null || datum.hist >= datum.prev)", "value": "#26a69a"},
                {"test": "datum.hist >= 0", "value": "#b2dfdb"},
                {"test": "datum.prev != null && datum.hist >= datum.prev", "value": "#ffcdd2"}
              ],
              "value": "#ff5252"
            }
          }
        },
        {
          "data": {"name": "macd"},
          "mark": {"type": "line", "color": "#2962ff", "strokeWidth": 1.2, "interpolate": "monotone"},
          "encoding": {"x": {"field": "date", "type": "temporal", "axis": null}, "y": {"field": "macd", "type": "quantitative", "axis": null}}
        },
        {
          "data": {"name": "macd"},
          "mark": {"type": "line", "color": "#ff6d00", "strokeWidth": 1.2, "interpolate": "monotone"},
          "encoding": {"x": {"field": "date", "type": "temporal", "axis": null}, "y": {"field": "signal", "type": "quantitative", "axis": null}}
        },
        {
          "mark": {"type": "text", "align": "left", "fontSize": 8.8, "color": "#131722", "text": "MACD 12 26 close 9 EMA EMA"},
          "encoding": {
            "x": {"datum": 1616633538000, "type": "temporal", "axis": null},
            "y": {"datum": 0.2093, "type": "quantitative", "axis": null}
          }
        },
        {
          "mark": {"type": "text", "align": "left", "fontSize": 8.8, "color": "#8fd3ca", "text": "0.01031342"},
          "encoding": {
            "x": {"datum": 1619135619000, "type": "temporal", "axis": null},
            "y": {"datum": 0.2093, "type": "quantitative", "axis": null}
          }
        },
        {
          "mark": {"type": "text", "align": "left", "fontSize": 8.8, "color": "#2962ff", "text": "0.02392518"},
          "encoding": {
            "x": {"datum": 1620093447000, "type": "temporal", "axis": null},
            "y": {"datum": 0.2093, "type": "quantitative", "axis": null}
          }
        },
        {
          "mark": {"type": "text", "align": "left", "fontSize": 8.8, "color": "#ff6d00", "text": "0.01361176"},
          "encoding": {
            "x": {"datum": 1621168560000, "type": "temporal", "axis": null},
            "y": {"datum": 0.2093, "type": "quantitative", "axis": null}
          }
        },
        {
          "mark": {"type": "rect", "fill": "#2962ff", "cornerRadius": 2},
          "encoding": {
            "x": {"datum": 1620044578000, "type": "temporal", "axis": null},
            "x2": {"datum": 1621070823000},
            "y": {"datum": -0.2, "type": "quantitative", "axis": null},
            "y2": {"datum": -0.4133}
          }
        },
        {
          "mark": {"type": "text", "align": "center", "fontSize": 9, "color": "white", "text": "09 May '21"},
          "encoding": {
            "x": {"datum": 1620558678000, "type": "temporal", "axis": null},
            "y": {"datum": -0.3067, "type": "quantitative", "axis": null}
          }
        },
        {
          "mark": {"type": "text", "align": "center", "fontSize": 12, "color": "#131722", "text": "⚙"},
          "encoding": {
            "x": {"datum": 1630746841000, "type": "temporal", "axis": null},
            "y": {"datum": -0.32, "type": "quantitative", "axis": null}
          }
        }
      ]
    },
    {
      "width": 702,
      "height": 29,
      "view": {"stroke": null},
      "data": {"values": [{}]},
      "layer": [
        {
          "mark": {"type": "text", "align": "left", "fontSize": 9, "color": "#131722", "text": "1D\u00a0\u00a0\u00a0\u00a0\u00a05D\u00a0\u00a0\u00a0\u00a01M\u00a0\u00a0\u00a0\u00a03M\u00a0\u00a0\u00a0\u00a06M\u00a0\u00a0\u00a0\u00a0\u00a0YTD\u00a0\u00a0\u00a0\u00a0\u00a01Y\u00a0\u00a0\u00a0\u00a0\u00a05Y\u00a0\u00a0\u00a0\u00a0\u00a0All"},
          "encoding": {"x": {"datum": 1616741049000, "type": "temporal", "scale": {"type": "utc", "domain": [1616379420000, 1630101773000], "nice": false}, "axis": null}}
        },
        {
          "mark": {"type": "text", "align": "center", "fontSize": 14, "color": "#e0e3eb", "text": "|"},
          "encoding": {"x": {"datum": 1620713103000, "type": "temporal", "axis": null}}
        },
        {
          "mark": {"type": "text", "align": "center", "fontSize": 9, "color": "#131722", "text": "08:27:37 (UTC+1)"},
          "encoding": {"x": {"datum": 1628753000000, "type": "temporal", "axis": null}}
        },
        {
          "mark": {"type": "text", "align": "center", "fontSize": 14, "color": "#e0e3eb", "text": "|"},
          "encoding": {"x": {"datum": 1629808560000, "type": "temporal", "axis": null}}
        },
        {
          "mark": {"type": "text", "align": "left", "fontSize": 9, "color": "#131722", "text": "%\u00a0\u00a0\u00a0\u00a0\u00a0log\u00a0\u00a0\u00a0\u00a0\u00a0auto"},
          "encoding": {"x": {"datum": 1629978625000, "type": "temporal", "axis": null}}
        }
      ]
    }
  ]
}
